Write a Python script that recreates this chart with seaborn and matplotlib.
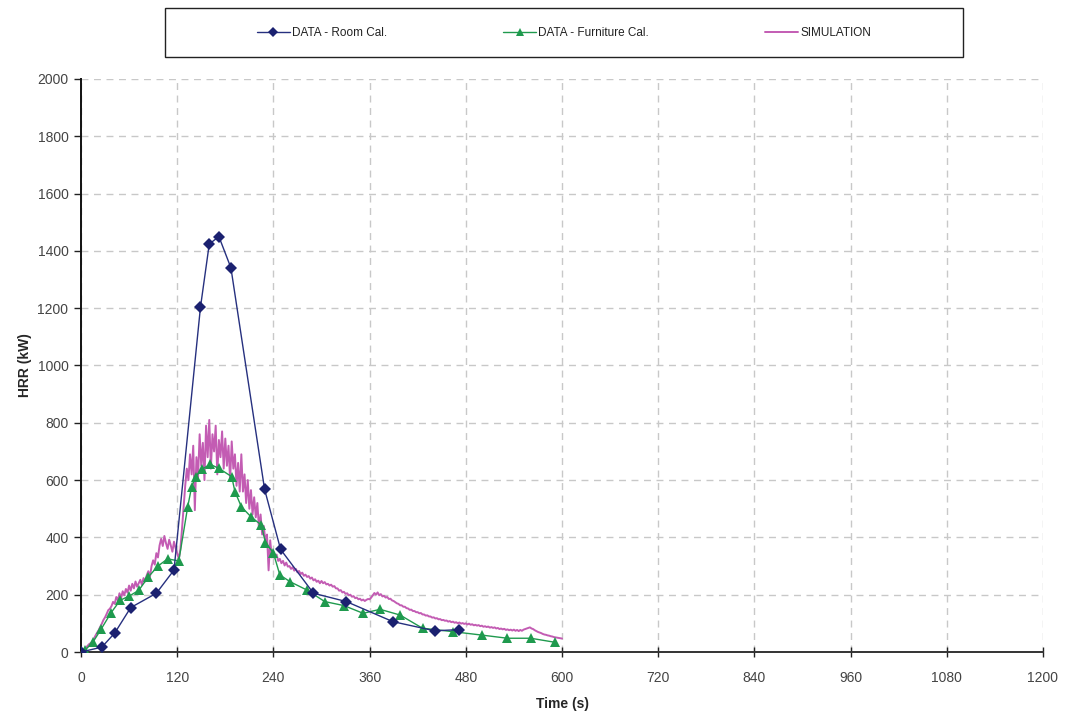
import numpy as np
import pandas as pd
import matplotlib
matplotlib.use("Agg")
import matplotlib.pyplot as plt
from matplotlib.patches import Rectangle
import seaborn as sns

# ---------------- data ----------------
room_time = [0, 26, 42, 62, 94, 116, 149, 160, 172, 187, 229, 249, 290, 331, 389, 441, 471]
room_hrr = [0, 17, 66, 155, 205, 286, 1203, 1424, 1450, 1341, 568, 358, 205, 176, 106, 74, 78]

furn_time = [0, 5, 15, 25, 37, 49, 60, 72, 84, 96, 108, 122, 133, 138, 143, 151, 161,
             172, 188, 192, 200, 212, 225, 230, 240, 248, 261, 282, 304, 328, 352, 373,
             398, 426, 464, 500, 532, 561, 591]
furn_hrr = [0, 6, 35, 79, 135, 181, 195, 215, 262, 300, 325, 318, 505, 577, 612, 638, 655,
            641, 612, 560, 507, 472, 443, 382, 346, 269, 245, 216, 176, 162, 135, 149,
            129, 83, 71, 59, 48, 48, 34]

sim_hrr = [
    0, 4, 9, 15, 21, 27, 31, 36, 46, 57,
    67, 76, 88, 99, 112, 121, 133, 146, 151, 160,
    175, 168, 192, 180, 205, 188, 212, 198, 220, 207,
    232, 214, 238, 222, 246, 228, 240, 252, 234, 258,
    246, 268, 282, 262, 300, 320, 305, 345, 330, 372,
    395, 370, 405, 380, 360, 392, 372, 350, 385, 362,
    345, 325, 360, 430, 505, 580, 640, 600, 690, 620,
    720, 495, 680, 610, 760, 650, 730, 600, 790, 680,
    810, 640, 760, 700, 790, 620, 740, 680, 770, 640,
    745, 650, 720, 600, 735, 640, 690, 580, 660, 560,
    690, 560, 620, 520, 600, 500, 565, 480, 540, 470,
    520, 430, 480, 410, 440, 385, 410, 285, 390, 330,
    350, 330, 340, 318, 325, 310, 318, 302, 312, 298,
    300, 290, 296, 284, 290, 278, 283, 272, 277, 266,
    270, 262, 265, 256, 260, 250, 254, 245, 249, 240,
    248, 240, 244, 236, 238, 232, 235, 228, 230, 222,
    222, 214, 216, 208, 210, 203, 205, 198, 200, 193,
    195, 188, 190, 184, 186, 180, 183, 178, 182, 185,
    184, 190, 198, 206, 200, 208, 198, 202, 194, 196,
    190, 192, 185, 186, 180, 178, 174, 170, 168, 163,
    163, 158, 158, 153, 152, 147, 148, 143, 143, 139,
    139, 135, 136, 131, 131, 127, 128, 124, 124, 120,
    121, 117, 118, 114, 115, 111, 112, 109, 110, 106,
    108, 104, 106, 102, 104, 100, 103, 99, 101, 98,
    100, 96, 99, 95, 97, 93, 95, 92, 94, 90,
    92, 88, 90, 87, 89, 85, 87, 84, 86, 82,
    84, 80, 82, 79, 81, 77, 79, 76, 78, 75,
    78, 74, 77, 73, 77, 74, 78, 80, 82, 84,
    86, 82, 80, 76, 73, 70, 68, 66, 63, 61,
    60, 58, 57, 55, 54, 52, 51, 50, 49, 48,
    47,
]
sim_step = 2
sim_time = list(range(0, sim_step * len(sim_hrr), sim_step))

labels = ["DATA - Room Cal.", "DATA - Furniture Cal.", "SIMULATION"]
x_ticks = [0, 120, 240, 360, 480, 600, 720, 840, 960, 1080, 1200]
y_ticks = [0, 200, 400, 600, 800, 1000, 1200, 1400, 1600, 1800, 2000]

# ---------------- style ----------------
sns.set_theme(style="white")
narrow = ["Liberation Sans Narrow", "Liberation Sans", "DejaVu Sans"]
plt.rcParams["font.family"] = narrow

col_room = "#26307f"
col_furn = "#1f9a4e"
col_sim = "#c35cb3"

fig = plt.figure(figsize=(10.66, 7.13), dpi=100, facecolor="white")
ax = fig.add_axes([81 / 1066, 1 - 652 / 713, (1043 - 81) / 1066, (652 - 79) / 713])

sns.lineplot(x=sim_time, y=sim_hrr, ax=ax, color=col_sim, linewidth=1.4,
             estimator=None, sort=False, label=labels[2], zorder=2)
sns.lineplot(x=furn_time, y=furn_hrr, ax=ax, color=col_furn, linewidth=1.0,
             marker="^", markersize=7, markeredgewidth=0, estimator=None,
             sort=False, label=labels[1], zorder=3)
sns.lineplot(x=room_time, y=room_hrr, ax=ax, color=col_room, linewidth=1.0,
             marker="D", markersize=6, markeredgewidth=0, markerfacecolor="#1b2170",
             estimator=None, sort=False, label=labels[0], zorder=4)

ax.set_xlim(0, 1200)
ax.set_ylim(0, 2000)
ax.set_xticks(x_ticks)
ax.set_yticks(y_ticks)
ax.set_xticklabels([str(v) for v in x_ticks])
ax.set_yticklabels([str(v) for v in y_ticks])

ax.grid(True, color="#c8c8c8", linestyle=(0, (5, 4)), linewidth=1.0)
ax.set_axisbelow(True)
for s in ["top", "right"]:
    ax.spines[s].set_visible(False)
ax.spines["left"].set_color("#111111")
ax.spines["left"].set_linewidth(1.4)
ax.spines["bottom"].set_color("#333333")
ax.spines["bottom"].set_linewidth(1.4)

ax.tick_params(axis="y", direction="out", length=5, width=1, color="#222222",
               labelsize=10, labelcolor="#444444", pad=4, left=True)
ax.tick_params(axis="x", direction="inout", length=7, width=1, color="#222222",
               labelsize=10, labelcolor="#444444", pad=10, bottom=True)

ax.set_xlabel("Time (s)", fontsize=10, fontweight="bold",
              family=["Liberation Sans", "DejaVu Sans"], labelpad=9)
ax.set_ylabel("HRR (kW)", fontsize=10, fontweight="bold",
              family=["Liberation Sans", "DejaVu Sans"], labelpad=4)

# legend
handles, labs = ax.get_legend_handles_labels()
order = [labs.index(l) for l in labels]
ax.get_legend().remove()
fig.patches.append(Rectangle((165 / 1066, 1 - 57 / 713), (963 - 165) / 1066, (57 - 8) / 713,
                             transform=fig.transFigure, fill=False, edgecolor="#222222",
                             linewidth=1.0, zorder=5))
fig.legend([handles[i] for i in order], labels, loc="center",
           bbox_to_anchor=(564 / 1066, 1 - 33 / 713), ncol=3, frameon=False,
           fontsize=8.5, handlelength=2.8, handletextpad=0.2, columnspacing=9.8,
           labelcolor="#222222", markerscale=0.85)

fig.savefig("out.png", dpi=100, facecolor="white")
